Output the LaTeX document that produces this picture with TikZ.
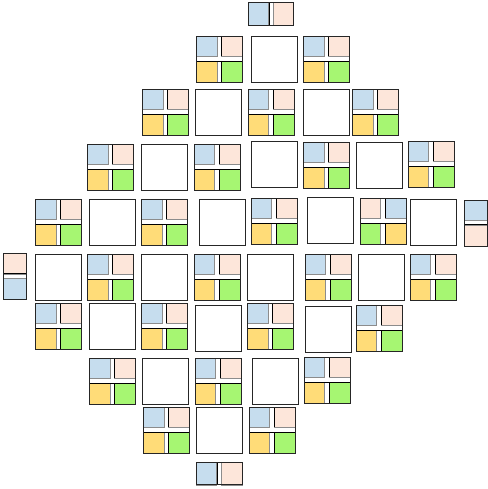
\documentclass[tikz,border=0pt]{standalone}
\usepackage{xcolor}
\usepackage{tikz}
\definecolor{cblue}{HTML}{C6DDEE}
\definecolor{cpeach}{HTML}{FDE6DA}
\definecolor{cyellow}{HTML}{FFDC78}
\definecolor{cgreen}{HTML}{A6F672}
\begin{document}
\begin{tikzpicture}[
x=1pt, y=-1pt,
cell/.style={draw=black!45, line width=0.5pt},
sep/.style={draw=black, line width=0.9pt},
frame/.style={draw=black!85, line width=0.9pt},
pics/quad/.style n args={4}{code={
\path[cell, fill=#1] (0,0) rectangle (20.5,20);
\path[cell, fill=#2] (25,0) rectangle (46,20);
\path[cell, fill=#3] (0,25) rectangle (20.5,46);
\path[cell, fill=#4] (25,25) rectangle (46,46);
\draw[sep] (25,0) -- (25,20) (25,25) -- (25,46) (0,25) -- (46,25);
\draw[frame] (0,0) rectangle (46,46);
}},
pics/blank/.style={code={
\draw[frame, fill=white] (0,0) rectangle (46,46);
}},
pics/pairh/.style n args={2}{code={
\path[cell, fill=#1] (0,0) rectangle (20,22.6);
\path[cell, fill=#2] (25,0) rectangle (45.4,22.6);
\draw[sep] (21,0) -- (21,22.6);
\draw[frame] (0,0) rectangle (45.4,22.6);
}},
pics/pairv/.style n args={3}{code={
\path[cell, fill=#1] (0,0) rectangle (23.4,20.5);
\path[cell, fill=#2] (0,25) rectangle (23.4,46);
\draw[sep] (0,#3) -- (23.4,#3);
\draw[frame] (0,0) rectangle (23.4,46);
}}
]
\useasboundingbox (0,0) rectangle (487,489);
\pic (p1) at (248.3,2.7) {pairh={cblue}{cpeach}};
\pic (q21) at (196.7,36) {quad={cblue}{cpeach}{cyellow}{cgreen}};
\pic (b22) at (251,36) {blank};
\pic (q23) at (303.3,36) {quad={cblue}{cpeach}{cyellow}{cgreen}};
\pic (q31) at (142.3,89.3) {quad={cblue}{cpeach}{cyellow}{cgreen}};
\pic (b32) at (195.7,89.3) {blank};
\pic (q33) at (248,89.3) {quad={cblue}{cpeach}{cyellow}{cgreen}};
\pic (b34) at (303.3,89.3) {blank};
\pic (q35) at (352.3,89.3) {quad={cblue}{cpeach}{cyellow}{cgreen}};
\pic (q41) at (87.3,144.3) {quad={cblue}{cpeach}{cyellow}{cgreen}};
\pic (b42) at (141.7,144.3) {blank};
\pic (q43) at (194,144.3) {quad={cblue}{cpeach}{cyellow}{cgreen}};
\pic (b44) at (251,141.7) {blank};
\pic (q45) at (303.3,142) {quad={cblue}{cpeach}{cyellow}{cgreen}};
\pic (b46) at (356,142) {blank};
\pic (q47) at (408,141) {quad={cblue}{cpeach}{cyellow}{cgreen}};
\pic (q51) at (35.5,199.2) {quad={cblue}{cpeach}{cyellow}{cgreen}};
\pic (b52) at (89.3,199) {blank};
\pic (q53) at (141.7,199) {quad={cblue}{cpeach}{cyellow}{cgreen}};
\pic (b54) at (199.3,199) {blank};
\pic (q55) at (251,198.3) {quad={cblue}{cpeach}{cyellow}{cgreen}};
\pic (b56) at (307.7,197.3) {blank};
\pic (q57) at (360,198) {quad={cpeach}{cblue}{cgreen}{cyellow}};
\pic (b58) at (410,199) {blank};
\pic (p59) at (464.3,200) {pairv={cblue}{cpeach}{24.3}};
\pic (p61) at (3.3,253.3) {pairv={cpeach}{cblue}{20}};
\pic (b62) at (35.7,254) {blank};
\pic (q63) at (87.5,254.3) {quad={cblue}{cpeach}{cyellow}{cgreen}};
\pic (b64) at (141.7,254.3) {blank};
\pic (q65) at (194,254.3) {quad={cblue}{cpeach}{cyellow}{cgreen}};
\pic (b66) at (247.7,254) {blank};
\pic (q67) at (305,254) {quad={cblue}{cpeach}{cyellow}{cgreen}};
\pic (b68) at (358.3,254) {blank};
\pic (q69) at (410,254) {quad={cblue}{cpeach}{cyellow}{cgreen}};
\pic (q71) at (35.7,303.3) {quad={cblue}{cpeach}{cyellow}{cgreen}};
\pic (b72) at (89.3,303.3) {blank};
\pic (q73) at (141.7,303.3) {quad={cblue}{cpeach}{cyellow}{cgreen}};
\pic (b74) at (195.7,305) {blank};
\pic (q75) at (247.3,303.3) {quad={cblue}{cpeach}{cyellow}{cgreen}};
\pic (b76) at (305,306) {blank};
\pic (q77) at (356,305) {quad={cblue}{cpeach}{cyellow}{cgreen}};
\pic (q81) at (89.3,358.3) {quad={cblue}{cpeach}{cyellow}{cgreen}};
\pic (b82) at (142.7,358.3) {blank};
\pic (q83) at (195,358.3) {quad={cblue}{cpeach}{cyellow}{cgreen}};
\pic (b84) at (252.5,358.3) {blank};
\pic (q85) at (304.2,357) {quad={cblue}{cpeach}{cyellow}{cgreen}};
\pic (q91) at (143.3,407.3) {quad={cblue}{cpeach}{cyellow}{cgreen}};
\pic (b92) at (196.7,407.3) {blank};
\pic (q93) at (249,407.3) {quad={cblue}{cpeach}{cyellow}{cgreen}};
\pic (p10) at (196.7,462.3) {pairh={cblue}{cpeach}};
\end{tikzpicture}
\end{document}
